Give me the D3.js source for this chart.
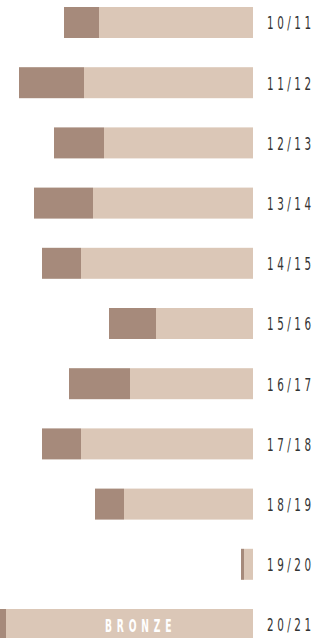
<!DOCTYPE html>
<html>
<head>
<meta charset="utf-8">
<script src="https://cdn.jsdelivr.net/npm/d3@7"></script>
<style>
  html, body { margin: 0; padding: 0; background: #fff; }
  svg { display: block; }
</style>
</head>
<body>
<svg id="chart" width="318" height="638"></svg>
<script>
// Data
const seasons = ["10/11","11/12","12/13","13/14","14/15","15/16","16/17","17/18","18/19","19/20","20/21"];
const lightValues = [154, 169, 149, 160, 172, 97, 123, 172, 129, 9, 247];
const darkValues  = [35, 65, 50, 59, 39, 47, 61, 39, 29, 3, 6];
const barLabels   = ["", "", "", "", "", "", "", "", "", "", "BRONZE"];

const svg = d3.select("#chart");

const x = d3.scaleLinear().domain([0, 253]).range([253, 0]);
const y = d3.scaleBand().domain(seasons).range([7, 640]).paddingInner(0.485).paddingOuter(0);

const data = seasons.map((s, i) => ({ season: s, light: lightValues[i], dark: darkValues[i], label: barLabels[i] }));

const g = svg.append("g");

g.selectAll("rect.light").data(data).join("rect")
  .attr("class", "light")
  .attr("x", d => x(d.light))
  .attr("y", d => y(d.season))
  .attr("width", d => x(0) - x(d.light))
  .attr("height", y.bandwidth())
  .attr("fill", "#dbc7b7");

g.selectAll("rect.dark").data(data).join("rect")
  .attr("class", "dark")
  .attr("x", d => x(d.light + d.dark))
  .attr("y", d => y(d.season))
  .attr("width", d => x(d.light) - x(d.light + d.dark))
  .attr("height", y.bandwidth())
  .attr("fill", "#a68a7b");

const font = "'DejaVu Sans Condensed', 'DejaVu Sans', sans-serif";

// season labels (horizontally compressed for a condensed look)
g.selectAll("text.season").data(data).join("text")
  .attr("class", "season")
  .attr("transform", d => `translate(267,${y(d.season) + y.bandwidth() / 2 + 1}) scale(0.68,1)`)
  .attr("dominant-baseline", "central")
  .attr("font-family", font)
  .attr("font-stretch", "condensed")
  .attr("font-size", 17)
  .attr("letter-spacing", 5.2)
  .attr("fill", "#333")
  .text(d => d.season);

// in-bar labels
g.selectAll("text.inbar").data(data.filter(d => d.label)).join("text")
  .attr("class", "inbar")
  .attr("transform", d => `translate(105,${y(d.season) + y.bandwidth() / 2 + 1}) scale(0.6,1)`)
  .attr("dominant-baseline", "central")
  .attr("font-family", font)
  .attr("font-stretch", "condensed")
  .attr("font-size", 17)
  .attr("font-weight", "bold")
  .attr("letter-spacing", 8)
  .attr("fill", "#fff")
  .text(d => d.label);
</script>
</body>
</html>
